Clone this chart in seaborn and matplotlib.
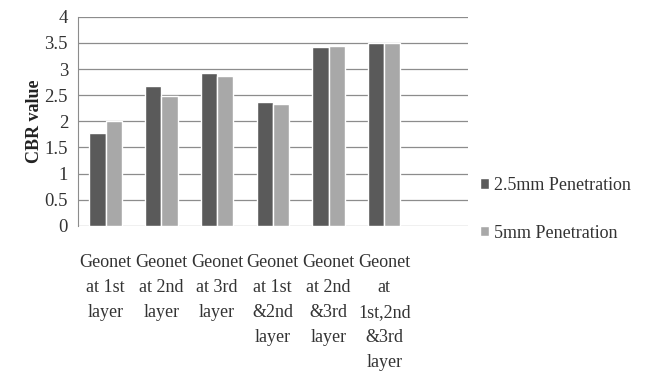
import matplotlib
matplotlib.use("Agg")
import matplotlib.pyplot as plt
import seaborn as sns
import pandas as pd

categories = ["Geonet\nat 1st\nlayer", "Geonet\nat 2nd\nlayer", "Geonet\nat 3rd\nlayer",
              "Geonet\nat 1st\n&2nd\nlayer", "Geonet\nat 2nd\n&3rd\nlayer",
              "Geonet\nat\n1st,2nd\n&3rd\nlayer"]
series_names = ["2.5mm Penetration", "5mm Penetration"]
vals_25 = [1.78, 2.68, 2.93, 2.37, 3.42, 3.50]
vals_5 = [2.00, 2.49, 2.87, 2.33, 3.45, 3.50]
yticks = [0, 0.5, 1, 1.5, 2, 2.5, 3, 3.5, 4]
ytick_labels = ["0", "0.5", "1", "1.5", "2", "2.5", "3", "3.5", "4"]

df = pd.DataFrame({
    "cat": categories * 2,
    "series": [series_names[0]] * len(categories) + [series_names[1]] * len(categories),
    "val": vals_25 + vals_5,
})

sns.set_style("white")
plt.rcParams["font.family"] = ["Liberation Serif", "DejaVu Serif"]

fig = plt.figure(figsize=(6.48, 3.74), dpi=100)
ax = fig.add_axes([0.120, 0.396, 0.602, 0.559])

sns.barplot(data=df, x="cat", y="val", hue="series", order=categories,
            hue_order=series_names, palette=["#5a5a5a", "#a8a8a8"],
            width=0.58, saturation=1, ax=ax, zorder=3)

ax.set_xlim(-0.5, 6.5)
ax.set_ylim(0, 4)
ax.set_yticks(yticks)
ax.set_yticklabels(ytick_labels, fontsize=13.5, color="#333333")
ax.yaxis.grid(True, color="#8c8c8c", linewidth=0.9, zorder=0)
ax.set_axisbelow(True)
for s in ["top", "right", "bottom"]:
    ax.spines[s].set_visible(False)
ax.spines["left"].set_color("#8c8c8c")
ax.tick_params(axis="y", length=4, color="#8c8c8c", pad=3)
ax.tick_params(axis="x", length=0, pad=20)
ax.set_xticks(range(len(categories)))
ax.set_xticklabels(categories, fontsize=13, color="#333333", linespacing=1.62, va="top")
ax.set_xlabel("")
ax.set_ylabel("CBR value", fontsize=13, fontweight="bold", color="#222222")
ax.yaxis.set_label_coords(-0.09, 0.5)

handles, labels = ax.get_legend_handles_labels()
leg = ax.legend(handles, labels, loc="center left", bbox_to_anchor=(0.99, 0.08),
                frameon=False, fontsize=13, handlelength=0.5, handleheight=0.5,
                handletextpad=0.25, labelspacing=1.7)
for t in leg.get_texts():
    t.set_color("#333333")

fig.savefig("out.png", dpi=100)
